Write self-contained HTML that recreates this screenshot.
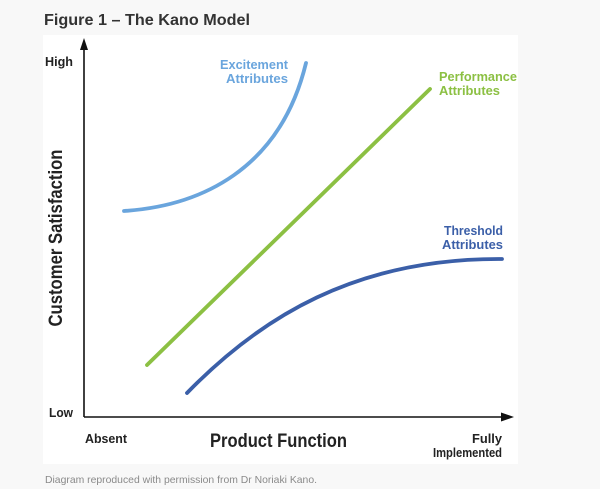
<!DOCTYPE html>
<html>
<head>
<meta charset="utf-8">
<style>
  html,body{margin:0;padding:0;background:#f8f8f8;}
  body{width:600px;height:489px;overflow:hidden;}
  svg{display:block;}
  text{font-family:"Liberation Sans",sans-serif;}
</style>
</head>
<body>
<svg width="600" height="489" viewBox="0 0 600 489" xmlns="http://www.w3.org/2000/svg">
  <rect x="0" y="0" width="600" height="489" fill="#f8f8f8"/>
  <rect x="43" y="35" width="475" height="429" fill="#ffffff"/>

  <!-- Title -->
  <text x="44" y="25" font-size="16" font-weight="bold" fill="#333333" textLength="206" lengthAdjust="spacingAndGlyphs">Figure 1 – The Kano Model</text>

  <!-- Axes -->
  <line x1="84" y1="48" x2="84" y2="417" stroke="#111" stroke-width="1.6"/>
  <polygon points="84,38 80,50 88,50" fill="#111"/>
  <line x1="84" y1="417" x2="502" y2="417" stroke="#111" stroke-width="1.6"/>
  <polygon points="514,417 501,412.5 501,421.5" fill="#111"/>

  <!-- Axis labels -->
  <text x="45" y="66" font-size="12.5" font-weight="bold" fill="#222" textLength="28" lengthAdjust="spacingAndGlyphs">High</text>
  <text x="49" y="417" font-size="12.5" font-weight="bold" fill="#222" textLength="24" lengthAdjust="spacingAndGlyphs">Low</text>
  <text x="85" y="443" font-size="12.5" font-weight="bold" fill="#222" textLength="42" lengthAdjust="spacingAndGlyphs">Absent</text>
  <text x="210" y="447" font-size="19" font-weight="bold" fill="#222" textLength="137" lengthAdjust="spacingAndGlyphs">Product Function</text>
  <text x="472" y="443" font-size="12.5" font-weight="bold" fill="#222" textLength="30" lengthAdjust="spacingAndGlyphs">Fully</text>
  <text x="433" y="457" font-size="12.5" font-weight="bold" fill="#222" textLength="69" lengthAdjust="spacingAndGlyphs">Implemented</text>
  <text transform="translate(62,238) rotate(-90)" x="0" y="0" font-size="19" font-weight="bold" fill="#222" text-anchor="middle" textLength="177" lengthAdjust="spacingAndGlyphs">Customer Satisfaction</text>

  <!-- Curves -->
  <path d="M124,211 C200,206 280,170 306,63" fill="none" stroke="#6aa5dd" stroke-width="3.8" stroke-linecap="round"/>
  <line x1="147" y1="365" x2="430" y2="89" stroke="#8cc043" stroke-width="3.8" stroke-linecap="round"/>
  <path d="M187,393 C260,318 355,258 502,259" fill="none" stroke="#3b5fa8" stroke-width="3.8" stroke-linecap="round"/>

  <!-- Series labels -->
  <text x="288" y="69" font-size="12.5" font-weight="bold" fill="#6aa5dd" text-anchor="end" textLength="68" lengthAdjust="spacingAndGlyphs">Excitement</text>
  <text x="288" y="83" font-size="12.5" font-weight="bold" fill="#6aa5dd" text-anchor="end" textLength="62" lengthAdjust="spacingAndGlyphs">Attributes</text>

  <text x="439" y="81" font-size="12.5" font-weight="bold" fill="#8cc043" textLength="78" lengthAdjust="spacingAndGlyphs">Performance</text>
  <text x="439" y="95" font-size="12.5" font-weight="bold" fill="#8cc043" textLength="61" lengthAdjust="spacingAndGlyphs">Attributes</text>

  <text x="503" y="235" font-size="12.5" font-weight="bold" fill="#3b5fa8" text-anchor="end" textLength="59" lengthAdjust="spacingAndGlyphs">Threshold</text>
  <text x="503" y="249" font-size="12.5" font-weight="bold" fill="#3b5fa8" text-anchor="end" textLength="61" lengthAdjust="spacingAndGlyphs">Attributes</text>

  <!-- Caption -->
  <text x="45" y="483" font-size="10.5" fill="#8a8a8a" textLength="272" lengthAdjust="spacingAndGlyphs">Diagram reproduced with permission from Dr Noriaki Kano.</text>
</svg>
</body>
</html>
